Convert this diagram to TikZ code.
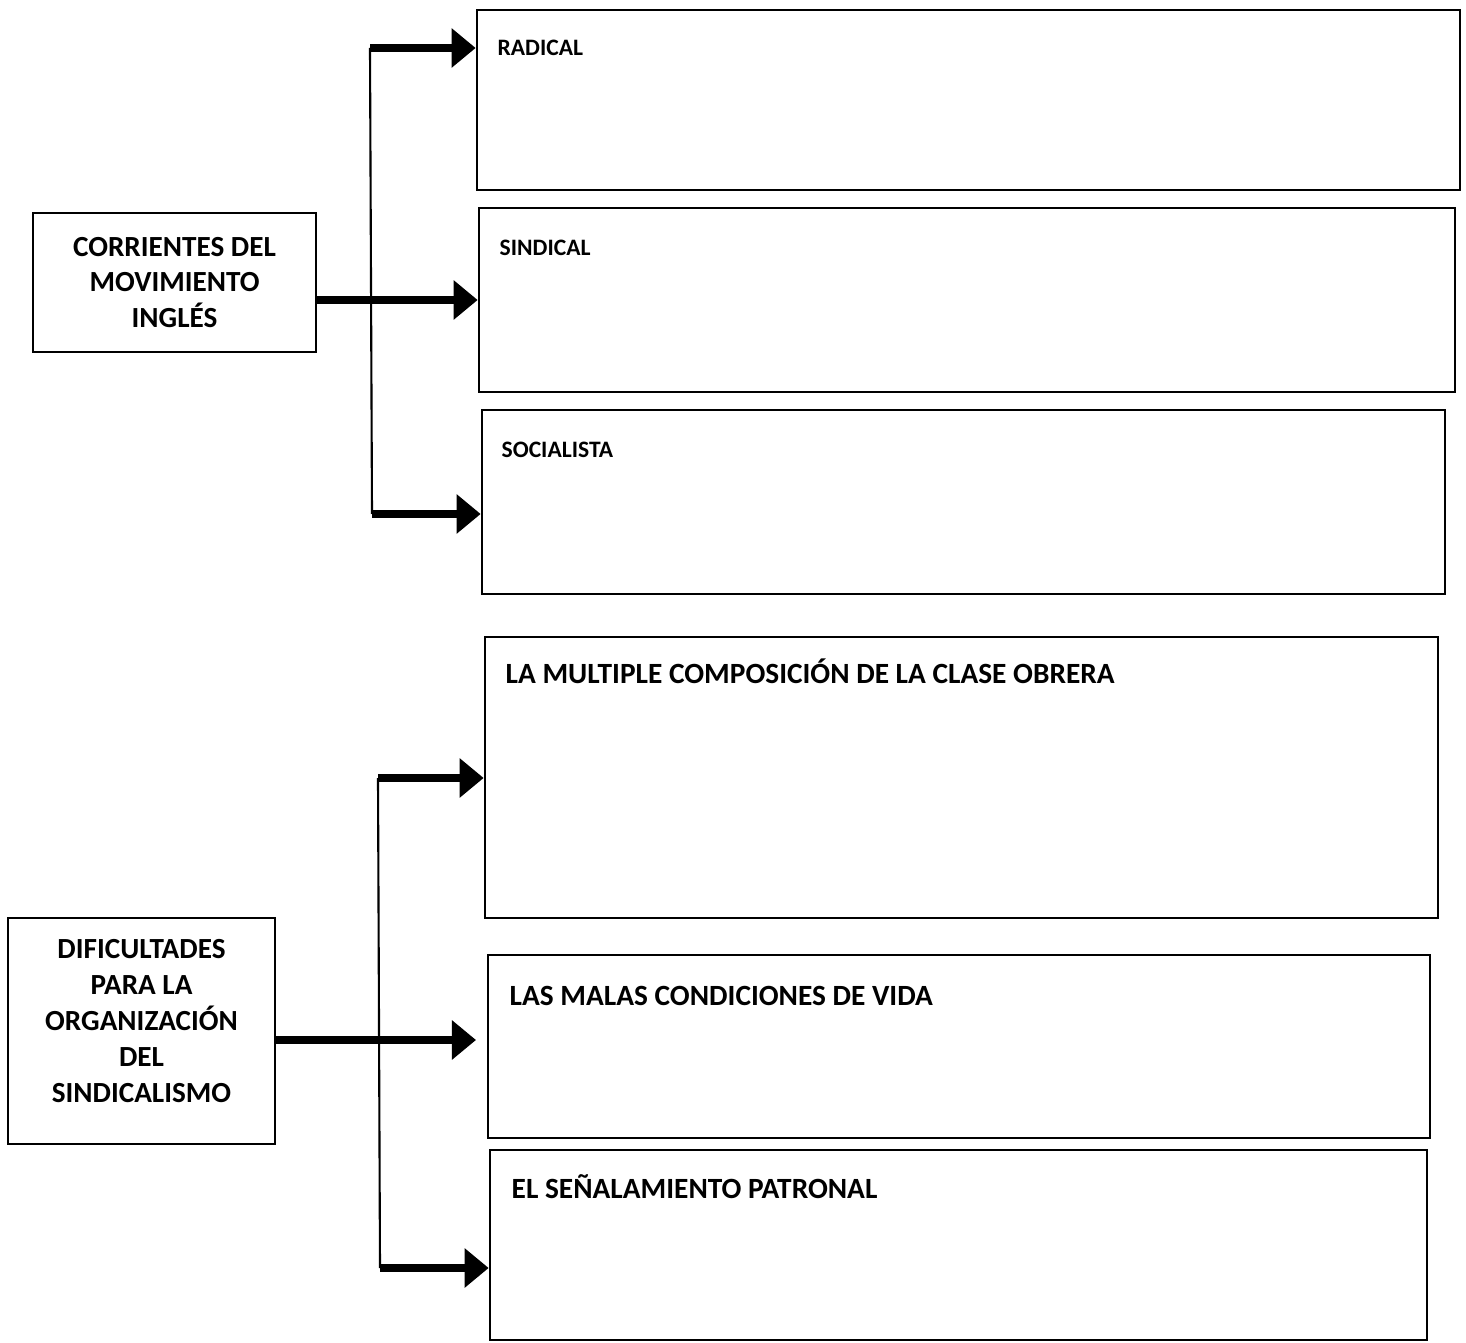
\documentclass[tikz,border=0pt]{standalone}
\usepackage{fontspec}
\setmainfont{Carlito}
\usepackage{tikz}
\usetikzlibrary{arrows.meta}
\tikzstyle{bx}=[rectangle,draw=black,line width=0.6pt,inner sep=0pt]
\tikzstyle{mainbx}=[rectangle,draw=black,line width=0.6pt,inner sep=0pt,
  align=center,font=\bfseries\fontsize{8.3pt}{10.2pt}\selectfont]
\tikzstyle{sm}=[anchor=base west,inner sep=0pt,font=\bfseries\fontsize{6.7pt}{8pt}\selectfont]
\tikzstyle{lg}=[anchor=base west,inner sep=0pt,font=\bfseries\fontsize{8.35pt}{10pt}\selectfont]
\tikzstyle{ar}=[line width=2pt,-{Triangle[length=0.24cm,width=0.38cm]}]
\tikzstyle{vl}=[line width=0.6pt]

\begin{document}
\begin{tikzpicture}[x=0.01cm,y=-0.01cm]
    \useasboundingbox (0,0) rectangle (1466,1343);
    \node [style=mainbx,minimum width=2.83cm,minimum height=1.39cm] (cor) at (174.5,282.5)
      {CORRIENTES DEL\\MOVIMIENTO\\INGLÉS};
    \node [style=bx,minimum width=9.83cm,minimum height=1.80cm] (rad) at (968.5,100) {};
    \node [style=bx,minimum width=9.76cm,minimum height=1.84cm] (sin) at (967,300) {};
    \node [style=bx,minimum width=9.63cm,minimum height=1.84cm] (soc) at (963.5,502) {};
    \node [style=sm] (radt) at (497,56) {RADICAL};
    \node [style=sm] (sint) at (499,256) {SINDICAL};
    \node [style=sm] (soct) at (501,458) {SOCIALISTA};
    \coordinate (ta) at (370,48);
    \coordinate (tb) at (372,514);
    \draw [style=vl] (ta) to (tb);
    \draw [style=ar] (ta) to (ta -| rad.west);
    \draw [style=ar] (cor.east |- sin.west) to (sin.west);
    \draw [style=ar] (tb) to (tb -| soc.west);

    \node [style=mainbx,minimum width=2.67cm,minimum height=2.26cm,text depth=0.2cm] (dif) at (141.5,1031)
      {DIFICULTADES\\PARA LA\\ORGANIZACIÓN\\DEL\\SINDICALISMO};
    \node [style=bx,minimum width=9.53cm,minimum height=2.81cm] (mul) at (961.5,777.5) {};
    \node [style=bx,minimum width=9.42cm,minimum height=1.83cm] (mal) at (959,1046.5) {};
    \node [style=bx,minimum width=9.37cm,minimum height=1.90cm] (sen) at (958.5,1245) {};
    \node [style=lg] (mult) at (505,683) {LA MULTIPLE COMPOSICIÓN DE LA CLASE OBRERA};
    \node [style=lg] (malt) at (509,1005) {LAS MALAS CONDICIONES DE VIDA};
    \node [style=lg] (sent) at (511,1198) {EL SEÑALAMIENTO PATRONAL};
    \coordinate (ba) at (378,778);
    \coordinate (bb) at (380,1268);
    \coordinate (bm) at (476,1040);
    \draw [style=vl] (ba) to (bb);
    \draw [style=ar] (ba) to (ba -| mul.west);
    \draw [style=ar] (dif.east |- bm) to (bm);
    \draw [style=ar] (bb) to (bb -| sen.west);
\end{tikzpicture}
\end{document}
